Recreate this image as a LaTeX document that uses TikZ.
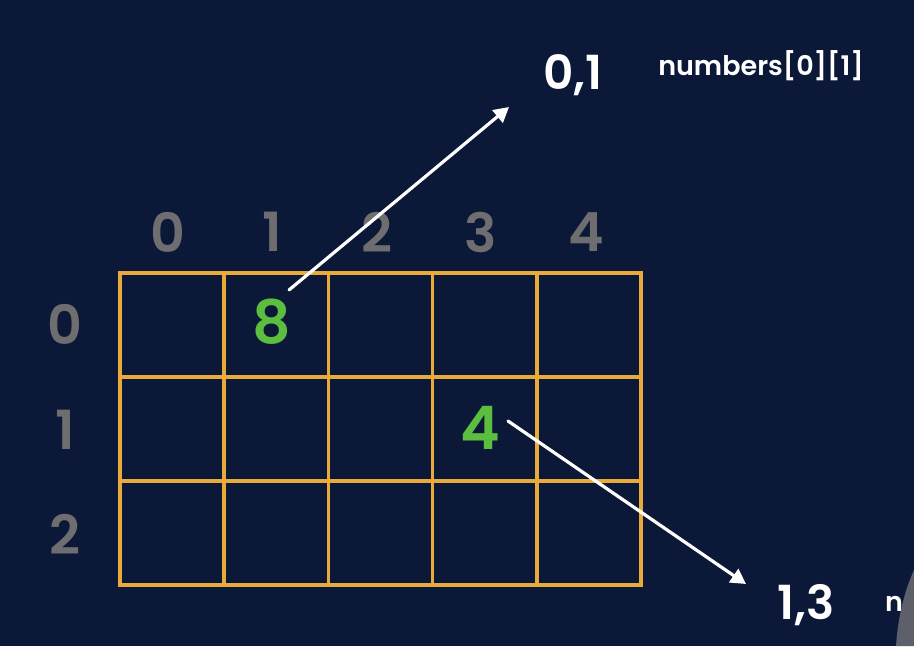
\documentclass[tikz,border=0pt]{standalone}
\usepackage{fontspec}
\setmainfont{Poppins}[BoldFont={Poppins SemiBold}]
\usetikzlibrary{arrows.meta}
\definecolor{bg}{HTML}{0B1838}
\definecolor{gridc}{HTML}{E9AA3C}
\definecolor{lab}{HTML}{6E6E70}
\definecolor{grn}{HTML}{5CBE3E}
\begin{document}
\begin{tikzpicture}[x=1pt,y=-1pt,
  idx/.style={text=lab,font=\fontsize{54}{54}\selectfont\bfseries,inner sep=0pt},
  val/.style={text=grn,font=\fontsize{60}{60}\selectfont\bfseries,inner sep=0pt},
  coord/.style={text=white,font=\fontsize{47}{47}\selectfont\bfseries,inner sep=0pt},
  code/.style={text=white,font=\fontsize{27}{27}\selectfont\bfseries,inner sep=0pt},
  pointer/.style={white,line width=3.2pt,line cap=round,-{Triangle[length=15pt,width=16pt]}},
  cell/.style={draw=gridc,line width=3.6pt}]
\fill[bg] (0,0) rectangle (914,646);
\useasboundingbox (0,0) rectangle (914,646);
% grid
\foreach \i in {0,...,4}{
  \foreach \j in {0,...,2}{
    \draw[cell] ({120+\i*104.2},{273+\j*104}) rectangle ({120+(\i+1)*104.2},{273+(\j+1)*104});
  }
}
% column labels
\node[idx] (c0) at (168,232) {0};
\node[idx] (c1) at (272,232) {1};
\node[idx] (c2) at (377,232) {2};
\node[idx] (c3) at (481,232) {3};
\node[idx] (c4) at (586,232) {4};
% row labels
\node[idx] (r0) at (65,324) {0};
\node[idx] (r1) at (65,430) {1};
\node[idx] (r2) at (65,534) {2};
% values
\node[val] (v8) at (272,322) {8};
\node[val] (v4) at (480,428) {4};
% targets
\node[coord] (t01) at (573,75) {0,1};
\node[code] (n01) at (761,66) {numbers[0][1]};
\node[coord] (t13) at (806,605) {1,3};
\node[code,anchor=west] (n13) at (885,604) {n};
% pointers
\coordinate (s1) at (289,290);
\coordinate (e1) at (509,107);
\coordinate (s2) at (508,421);
\coordinate (e2) at (746,584);
\draw[pointer] (s1) -- (e1);
\draw[pointer] (s2) -- (e2);
% corner photo fragment
\fill[gray!70!bg] (914,570) .. controls (905,590) and (898,615) .. (896,646) -- (914,646) -- cycle;
\end{tikzpicture}
\end{document}
